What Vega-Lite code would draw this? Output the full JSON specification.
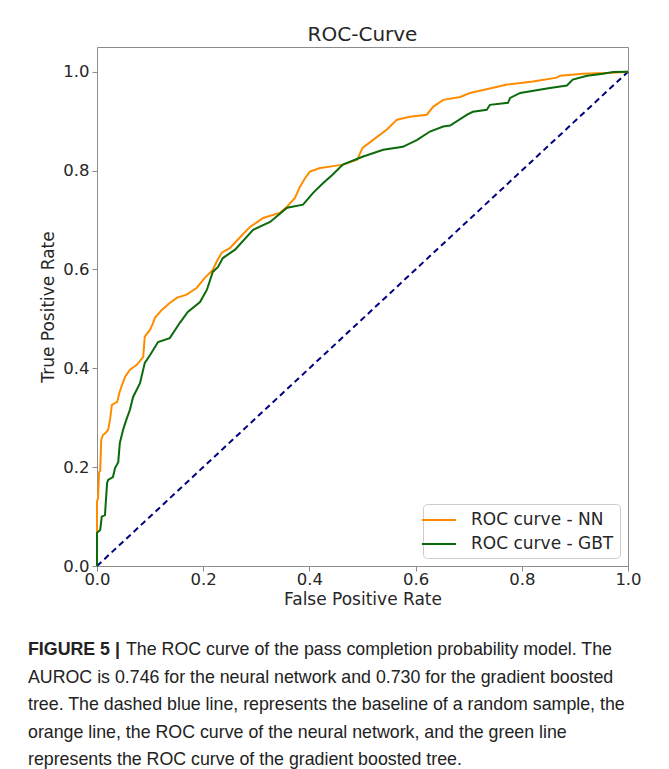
{
  "$schema": "https://vega.github.io/schema/vega-lite/v6.json",
  "background": "white",
  "padding": {"left": 28, "top": 24, "right": 5, "bottom": 0},
  "bounds": "flush",
  "spacing": 84,
  "resolve": {"legend": {"color": "independent"}, "scale": {"color": "independent"}},
  "config": {
    "font": "DejaVu Sans",
    "view": {"stroke": null}
  },
  "vconcat": [
    {
      "width": 531,
      "height": 519,
      "title": {"text": "ROC-Curve", "fontSize": 20, "fontWeight": "normal", "color": "#262626", "offset": 2},
      "view": {"stroke": "#8c8c8c", "strokeWidth": 1},
      "encoding": {
        "x": {
          "field": "fpr", "type": "quantitative",
          "scale": {"domain": [0, 1], "nice": false, "zero": false},
          "axis": {
            "title": "False Positive Rate", "values": [0, 0.2, 0.4, 0.6, 0.8, 1], "format": ".1f",
            "domain": false, "grid": false, "tickSize": 5, "tickColor": "#8c8c8c",
            "labelFontSize": 16.5, "labelColor": "#262626", "labelPadding": 0, "labelFlush": false, "labelOverlap": false,
            "titleFontSize": 17, "titleFontWeight": "normal", "titleColor": "#262626", "titlePadding": 4
          }
        },
        "y": {
          "field": "tpr", "type": "quantitative",
          "scale": {"domain": [0, 1.05], "nice": false, "zero": false},
          "axis": {
            "title": "True Positive Rate", "values": [0, 0.2, 0.4, 0.6, 0.8, 1], "format": ".1f",
            "domain": false, "grid": false, "tickSize": 5, "tickColor": "#8c8c8c",
            "labelFontSize": 16.5, "labelColor": "#262626", "labelPadding": 3, "labelFlush": false, "labelOverlap": false,
            "titleFontSize": 17, "titleFontWeight": "normal", "titleColor": "#262626", "titlePadding": 5
          }
        }
      },
      "layer": [
        {
          "data": {"values": [{"fpr": 0, "tpr": 0}, {"fpr": 1, "tpr": 1}]},
          "mark": {"type": "line", "color": "navy", "strokeDash": [6, 4], "strokeWidth": 2}
        },
        {
          "data": {"values": [
            {"model": "ROC curve - NN", "fpr": 0, "tpr": 0},
            {"model": "ROC curve - NN", "fpr": 0, "tpr": 0.07},
            {"model": "ROC curve - NN", "fpr": 0, "tpr": 0.13},
            {"model": "ROC curve - NN", "fpr": 0.002, "tpr": 0.138},
            {"model": "ROC curve - NN", "fpr": 0.004, "tpr": 0.19},
            {"model": "ROC curve - NN", "fpr": 0.006, "tpr": 0.192},
            {"model": "ROC curve - NN", "fpr": 0.008, "tpr": 0.255},
            {"model": "ROC curve - NN", "fpr": 0.011, "tpr": 0.265},
            {"model": "ROC curve - NN", "fpr": 0.015, "tpr": 0.268},
            {"model": "ROC curve - NN", "fpr": 0.021, "tpr": 0.275},
            {"model": "ROC curve - NN", "fpr": 0.025, "tpr": 0.3},
            {"model": "ROC curve - NN", "fpr": 0.028, "tpr": 0.326},
            {"model": "ROC curve - NN", "fpr": 0.038, "tpr": 0.332},
            {"model": "ROC curve - NN", "fpr": 0.042, "tpr": 0.35},
            {"model": "ROC curve - NN", "fpr": 0.047, "tpr": 0.366},
            {"model": "ROC curve - NN", "fpr": 0.053, "tpr": 0.383},
            {"model": "ROC curve - NN", "fpr": 0.062, "tpr": 0.397},
            {"model": "ROC curve - NN", "fpr": 0.075, "tpr": 0.407},
            {"model": "ROC curve - NN", "fpr": 0.087, "tpr": 0.423},
            {"model": "ROC curve - NN", "fpr": 0.09, "tpr": 0.464},
            {"model": "ROC curve - NN", "fpr": 0.1, "tpr": 0.478},
            {"model": "ROC curve - NN", "fpr": 0.105, "tpr": 0.49},
            {"model": "ROC curve - NN", "fpr": 0.109, "tpr": 0.502},
            {"model": "ROC curve - NN", "fpr": 0.122, "tpr": 0.518},
            {"model": "ROC curve - NN", "fpr": 0.137, "tpr": 0.532},
            {"model": "ROC curve - NN", "fpr": 0.151, "tpr": 0.543},
            {"model": "ROC curve - NN", "fpr": 0.169, "tpr": 0.549},
            {"model": "ROC curve - NN", "fpr": 0.188, "tpr": 0.563},
            {"model": "ROC curve - NN", "fpr": 0.203, "tpr": 0.583},
            {"model": "ROC curve - NN", "fpr": 0.218, "tpr": 0.599},
            {"model": "ROC curve - NN", "fpr": 0.225, "tpr": 0.615},
            {"model": "ROC curve - NN", "fpr": 0.235, "tpr": 0.634},
            {"model": "ROC curve - NN", "fpr": 0.25, "tpr": 0.643},
            {"model": "ROC curve - NN", "fpr": 0.265, "tpr": 0.66},
            {"model": "ROC curve - NN", "fpr": 0.288, "tpr": 0.686},
            {"model": "ROC curve - NN", "fpr": 0.313, "tpr": 0.704},
            {"model": "ROC curve - NN", "fpr": 0.345, "tpr": 0.715},
            {"model": "ROC curve - NN", "fpr": 0.358, "tpr": 0.727},
            {"model": "ROC curve - NN", "fpr": 0.373, "tpr": 0.745},
            {"model": "ROC curve - NN", "fpr": 0.382, "tpr": 0.767},
            {"model": "ROC curve - NN", "fpr": 0.392, "tpr": 0.785},
            {"model": "ROC curve - NN", "fpr": 0.401, "tpr": 0.798},
            {"model": "ROC curve - NN", "fpr": 0.42, "tpr": 0.805},
            {"model": "ROC curve - NN", "fpr": 0.439, "tpr": 0.808},
            {"model": "ROC curve - NN", "fpr": 0.463, "tpr": 0.812},
            {"model": "ROC curve - NN", "fpr": 0.49, "tpr": 0.822},
            {"model": "ROC curve - NN", "fpr": 0.5, "tpr": 0.846},
            {"model": "ROC curve - NN", "fpr": 0.52, "tpr": 0.862},
            {"model": "ROC curve - NN", "fpr": 0.546, "tpr": 0.883},
            {"model": "ROC curve - NN", "fpr": 0.565, "tpr": 0.903},
            {"model": "ROC curve - NN", "fpr": 0.589, "tpr": 0.909},
            {"model": "ROC curve - NN", "fpr": 0.621, "tpr": 0.913},
            {"model": "ROC curve - NN", "fpr": 0.633, "tpr": 0.929},
            {"model": "ROC curve - NN", "fpr": 0.652, "tpr": 0.943},
            {"model": "ROC curve - NN", "fpr": 0.684, "tpr": 0.949},
            {"model": "ROC curve - NN", "fpr": 0.702, "tpr": 0.957},
            {"model": "ROC curve - NN", "fpr": 0.74, "tpr": 0.966},
            {"model": "ROC curve - NN", "fpr": 0.772, "tpr": 0.974},
            {"model": "ROC curve - NN", "fpr": 0.821, "tpr": 0.98},
            {"model": "ROC curve - NN", "fpr": 0.866, "tpr": 0.988},
            {"model": "ROC curve - NN", "fpr": 0.872, "tpr": 0.992},
            {"model": "ROC curve - NN", "fpr": 0.915, "tpr": 0.996},
            {"model": "ROC curve - NN", "fpr": 0.972, "tpr": 0.998},
            {"model": "ROC curve - NN", "fpr": 1, "tpr": 1},
            {"model": "ROC curve - GBT", "fpr": 0, "tpr": 0},
            {"model": "ROC curve - GBT", "fpr": 0, "tpr": 0.067},
            {"model": "ROC curve - GBT", "fpr": 0.006, "tpr": 0.073},
            {"model": "ROC curve - GBT", "fpr": 0.009, "tpr": 0.1},
            {"model": "ROC curve - GBT", "fpr": 0.015, "tpr": 0.103},
            {"model": "ROC curve - GBT", "fpr": 0.019, "tpr": 0.168},
            {"model": "ROC curve - GBT", "fpr": 0.021, "tpr": 0.174},
            {"model": "ROC curve - GBT", "fpr": 0.03, "tpr": 0.18},
            {"model": "ROC curve - GBT", "fpr": 0.034, "tpr": 0.198},
            {"model": "ROC curve - GBT", "fpr": 0.04, "tpr": 0.21},
            {"model": "ROC curve - GBT", "fpr": 0.043, "tpr": 0.249},
            {"model": "ROC curve - GBT", "fpr": 0.049, "tpr": 0.275},
            {"model": "ROC curve - GBT", "fpr": 0.055, "tpr": 0.295},
            {"model": "ROC curve - GBT", "fpr": 0.062, "tpr": 0.316},
            {"model": "ROC curve - GBT", "fpr": 0.068, "tpr": 0.342},
            {"model": "ROC curve - GBT", "fpr": 0.081, "tpr": 0.37},
            {"model": "ROC curve - GBT", "fpr": 0.09, "tpr": 0.411},
            {"model": "ROC curve - GBT", "fpr": 0.1, "tpr": 0.427},
            {"model": "ROC curve - GBT", "fpr": 0.115, "tpr": 0.453},
            {"model": "ROC curve - GBT", "fpr": 0.137, "tpr": 0.461},
            {"model": "ROC curve - GBT", "fpr": 0.156, "tpr": 0.492},
            {"model": "ROC curve - GBT", "fpr": 0.171, "tpr": 0.514},
            {"model": "ROC curve - GBT", "fpr": 0.194, "tpr": 0.534},
            {"model": "ROC curve - GBT", "fpr": 0.207, "tpr": 0.559},
            {"model": "ROC curve - GBT", "fpr": 0.218, "tpr": 0.595},
            {"model": "ROC curve - GBT", "fpr": 0.228, "tpr": 0.605},
            {"model": "ROC curve - GBT", "fpr": 0.237, "tpr": 0.623},
            {"model": "ROC curve - GBT", "fpr": 0.26, "tpr": 0.64},
            {"model": "ROC curve - GBT", "fpr": 0.294, "tpr": 0.68},
            {"model": "ROC curve - GBT", "fpr": 0.326, "tpr": 0.696},
            {"model": "ROC curve - GBT", "fpr": 0.358, "tpr": 0.725},
            {"model": "ROC curve - GBT", "fpr": 0.388, "tpr": 0.731},
            {"model": "ROC curve - GBT", "fpr": 0.407, "tpr": 0.755},
            {"model": "ROC curve - GBT", "fpr": 0.426, "tpr": 0.775},
            {"model": "ROC curve - GBT", "fpr": 0.443, "tpr": 0.791},
            {"model": "ROC curve - GBT", "fpr": 0.463, "tpr": 0.812},
            {"model": "ROC curve - GBT", "fpr": 0.5, "tpr": 0.828},
            {"model": "ROC curve - GBT", "fpr": 0.539, "tpr": 0.842},
            {"model": "ROC curve - GBT", "fpr": 0.576, "tpr": 0.848},
            {"model": "ROC curve - GBT", "fpr": 0.603, "tpr": 0.862},
            {"model": "ROC curve - GBT", "fpr": 0.627, "tpr": 0.879},
            {"model": "ROC curve - GBT", "fpr": 0.652, "tpr": 0.889},
            {"model": "ROC curve - GBT", "fpr": 0.665, "tpr": 0.891},
            {"model": "ROC curve - GBT", "fpr": 0.697, "tpr": 0.913},
            {"model": "ROC curve - GBT", "fpr": 0.708, "tpr": 0.919},
            {"model": "ROC curve - GBT", "fpr": 0.734, "tpr": 0.923},
            {"model": "ROC curve - GBT", "fpr": 0.74, "tpr": 0.933},
            {"model": "ROC curve - GBT", "fpr": 0.774, "tpr": 0.937},
            {"model": "ROC curve - GBT", "fpr": 0.778, "tpr": 0.947},
            {"model": "ROC curve - GBT", "fpr": 0.797, "tpr": 0.957},
            {"model": "ROC curve - GBT", "fpr": 0.853, "tpr": 0.967},
            {"model": "ROC curve - GBT", "fpr": 0.885, "tpr": 0.972},
            {"model": "ROC curve - GBT", "fpr": 0.896, "tpr": 0.984},
            {"model": "ROC curve - GBT", "fpr": 0.923, "tpr": 0.992},
            {"model": "ROC curve - GBT", "fpr": 0.953, "tpr": 0.996},
            {"model": "ROC curve - GBT", "fpr": 0.972, "tpr": 0.9995},
            {"model": "ROC curve - GBT", "fpr": 1, "tpr": 1}
          ]},
          "mark": {"type": "line", "strokeWidth": 2},
          "encoding": {
            "order": [{"field": "tpr"}, {"field": "fpr"}],
            "color": {
              "field": "model", "type": "nominal",
              "sort": ["ROC curve - NN", "ROC curve - GBT"],
              "scale": {"domain": ["ROC curve - NN", "ROC curve - GBT"], "range": ["#ff8c00", "#0b6b0b"]},
              "legend": {
                "title": null, "orient": "bottom-right", "offset": 8,
                "strokeColor": "#cccccc", "cornerRadius": 4, "padding": 6, "fillColor": "white",
                "symbolType": "M-1.9,0H1.9", "symbolSize": 324, "symbolStrokeWidth": 2,
                "labelFontSize": 17, "labelColor": "#262626", "labelOffset": 22, "rowPadding": 6
              }
            }
          }
        }
      ]
    },
    {
      "width": 531,
      "height": 110,
      "data": {"values": [
        {"line": 1, "part": "bold", "text": "FIGURE 5 |"},
        {"line": 1, "part": "rest", "text": "The ROC curve of the pass completion probability model. The"},
        {"line": 2, "part": "body", "text": "AUROC is 0.746 for the neural network and 0.730 for the gradient boosted"},
        {"line": 3, "part": "body", "text": "tree. The dashed blue line, represents the baseline of a random sample, the"},
        {"line": 4, "part": "body", "text": "orange line, the ROC curve of the neural network, and the green line"},
        {"line": 5, "part": "body", "text": "represents the ROC curve of the gradient boosted tree."}
      ]},
      "encoding": {
        "y": {"field": "line", "type": "ordinal", "scale": {"type": "point", "padding": 0}, "axis": null},
        "x": {"datum": 0, "type": "quantitative", "scale": {"domain": [0, 1]}, "axis": null},
        "text": {"field": "text"}
      },
      "layer": [
        {
          "transform": [{"filter": "datum.part === 'bold'"}],
          "mark": {"type": "text", "align": "left", "baseline": "middle", "dx": -69, "font": "Liberation Sans, Arial, sans-serif", "fontWeight": "bold", "fontSize": 17.8, "color": "#222222"}
        },
        {
          "transform": [{"filter": "datum.part === 'rest'"}],
          "mark": {"type": "text", "align": "left", "baseline": "middle", "dx": 29, "font": "Liberation Sans, Arial, sans-serif", "fontSize": 17.8, "color": "#222222"}
        },
        {
          "transform": [{"filter": "datum.part === 'body'"}],
          "mark": {"type": "text", "align": "left", "baseline": "middle", "dx": -69, "font": "Liberation Sans, Arial, sans-serif", "fontSize": 17.8, "color": "#222222"}
        }
      ]
    }
  ]
}
